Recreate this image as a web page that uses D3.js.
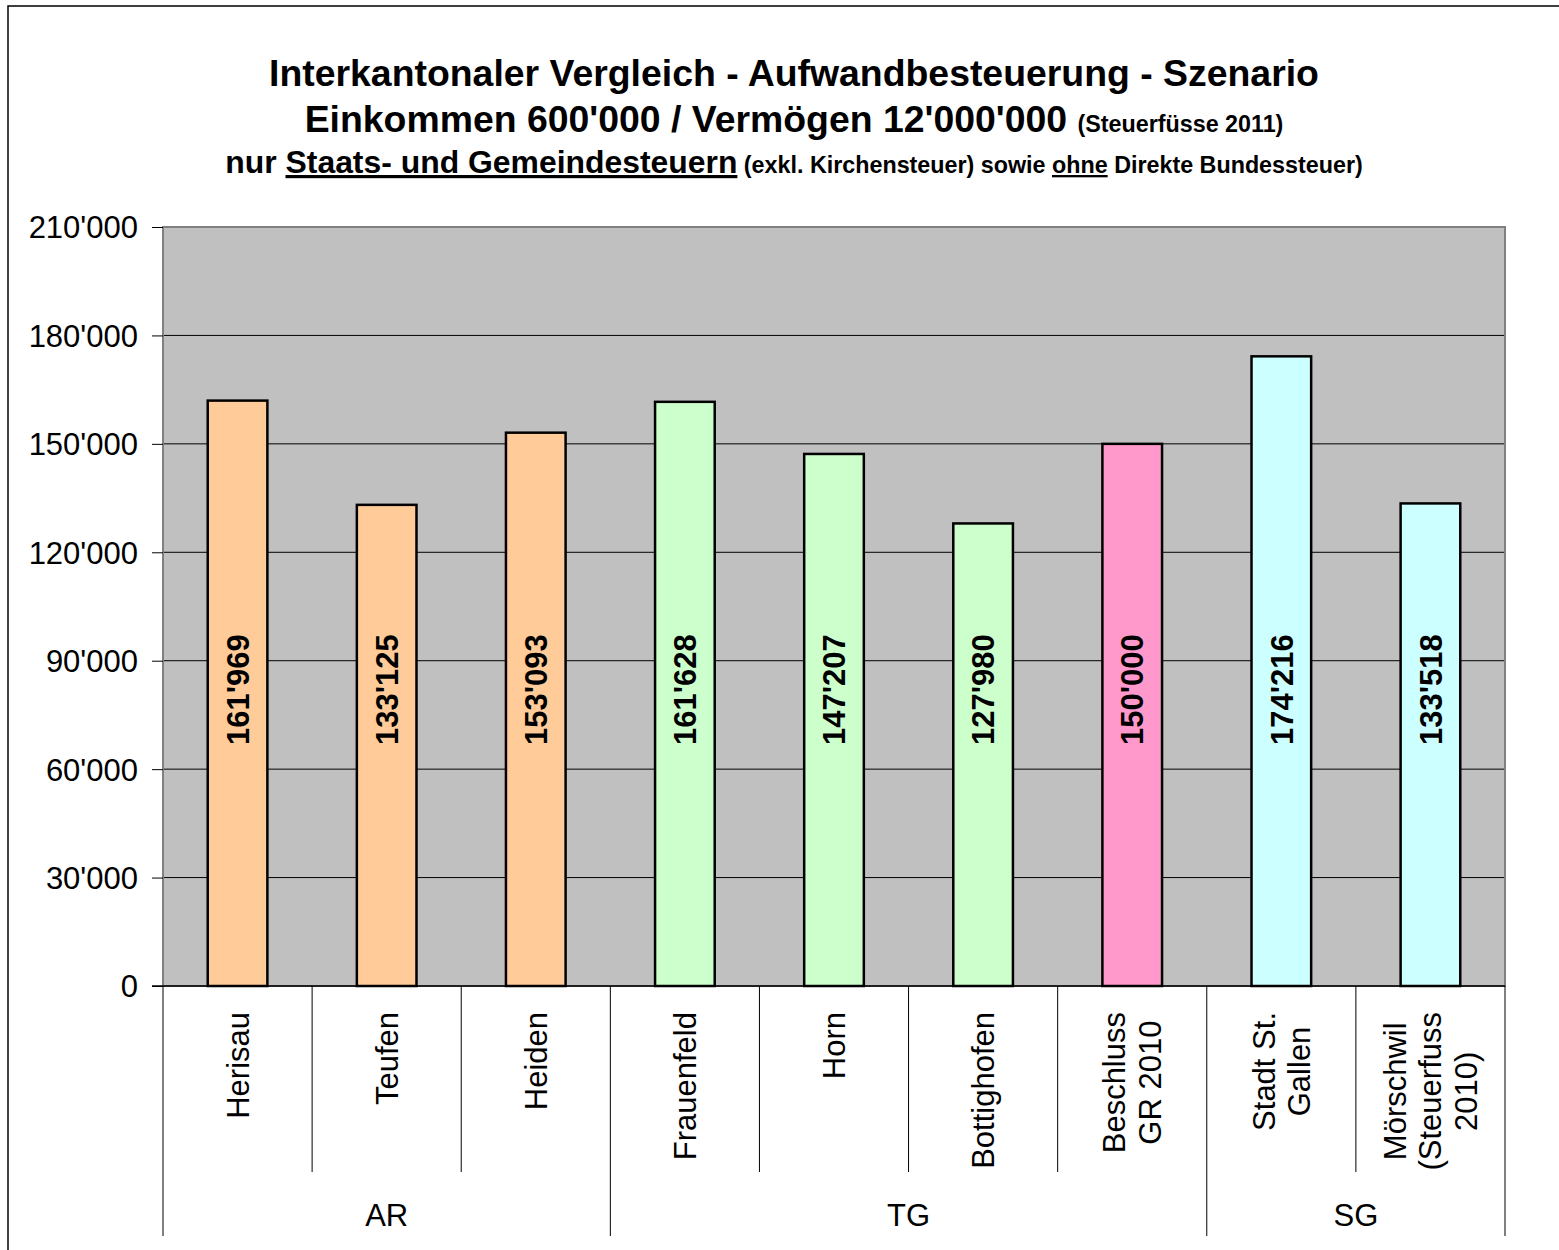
<!DOCTYPE html>
<html>
<head>
<meta charset="utf-8">
<script src="https://cdn.jsdelivr.net/npm/d3@7"></script>
<style>
  body { margin: 0; background: #fff; }
  svg { display: block; }
  text { font-family: "Liberation Sans", Arial, sans-serif; fill: #000; }
</style>
</head>
<body>
<svg id="chart" width="1559" height="1250"></svg>
<script>
// data
var categories = ["Herisau", "Teufen", "Heiden", "Frauenfeld", "Horn", "Bottighofen",
                  "Beschluss\nGR 2010", "Stadt St.\nGallen", "Mörschwil\n(Steuerfuss\n2010)"];
var values = [161969, 133125, 153093, 161628, 147207, 127980, 150000, 174216, 133518];
var cantons = ["AR", "AR", "AR", "TG", "TG", "TG", "TG", "SG", "SG"];
var groups = ["AR", "TG", "SG"];
var barColors = ["#FFCC99", "#FFCC99", "#FFCC99", "#CCFFCC", "#CCFFCC", "#CCFFCC", "#FF99CC", "#CCFFFF", "#CCFFFF"];
var yTicks = [0, 30000, 60000, 90000, 120000, 150000, 180000, 210000];

var svg = d3.select("svg#chart");

var plot = {left: 163, right: 1505, top: 227, bottom: 986},
    shortSep = 1172,   // end of separators inside a group
    longSep = 1236,    // end of separators between groups
    labelTop = 1012,   // upper end of rotated category labels
    labelLevel = 82000; // value labels sit around this height

var fmt = d3.formatLocale({decimal: ".", thousands: "'", grouping: [3], currency: ["", ""]}).format(",d");

// outer chart frame (runs off the picture to the right and bottom)
svg.append("rect")
    .attr("x", 8).attr("y", 6)
    .attr("width", 1700).attr("height", 1400)
    .attr("fill", "none").attr("stroke", "#000").attr("stroke-width", 1.5);

// ---- title ----
var title = svg.append("g").attr("class", "title");
var cx = 794;

title.append("text").attr("x", cx).attr("y", 86)
    .attr("text-anchor", "middle")
    .style("font-weight", "bold").style("font-size", "37.4px")
    .text("Interkantonaler Vergleich - Aufwandbesteuerung - Szenario");

var t2 = title.append("text").attr("x", cx).attr("y", 132)
    .attr("text-anchor", "middle").style("font-weight", "bold");
t2.append("tspan").style("font-size", "37.4px").text("Einkommen 600'000 / Vermögen 12'000'000 ");
t2.append("tspan").style("font-size", "23.3px").text("(Steuerfüsse 2011)");

var t3 = title.append("text").attr("x", cx).attr("y", 173)
    .attr("text-anchor", "middle").style("font-weight", "bold");
t3.append("tspan").style("font-size", "31.9px").text("nur ");
t3.append("tspan").style("font-size", "31.9px").style("text-decoration", "underline").text("Staats- und Gemeindesteuern");
t3.append("tspan").style("font-size", "23.3px").text(" (exkl. Kirchensteuer) sowie ");
t3.append("tspan").style("font-size", "23.3px").style("text-decoration", "underline").text("ohne");
t3.append("tspan").style("font-size", "23.3px").text(" Direkte Bundessteuer)");

// ---- scales ----
var y = d3.scaleLinear().domain([0, 210000]).range([plot.bottom, plot.top]);

var xCat = d3.scaleBand().domain(d3.range(categories.length))
    .range([plot.left, plot.right]).padding(0);

var xBar = d3.scaleBand().domain(d3.range(categories.length))
    .range([plot.left, plot.right]).paddingInner(0.6).paddingOuter(0.3);

// ---- plot area ----
svg.append("rect")
    .attr("x", plot.left).attr("y", plot.top)
    .attr("width", plot.right - plot.left).attr("height", plot.bottom - plot.top)
    .attr("fill", "#C0C0C0");

// gridlines
svg.append("g").selectAll("line")
    .data(yTicks.filter(function(d) { return d > 0 && d < 210000; }))
    .enter().append("line")
    .attr("x1", plot.left).attr("x2", plot.right)
    .attr("y1", function(d) { return y(d); }).attr("y2", function(d) { return y(d); })
    .attr("stroke", "#000").attr("stroke-width", 1);

// plot border
svg.append("rect")
    .attr("x", plot.left).attr("y", plot.top)
    .attr("width", plot.right - plot.left).attr("height", plot.bottom - plot.top)
    .attr("fill", "none").attr("stroke", "#808080").attr("stroke-width", 2);

// bars
svg.append("g").selectAll("rect")
    .data(values)
    .enter().append("rect")
    .attr("x", function(d, i) { return xBar(i); })
    .attr("y", function(d) { return y(d); })
    .attr("width", xBar.bandwidth())
    .attr("height", function(d) { return y(0) - y(d); })
    .attr("fill", function(d, i) { return barColors[i]; })
    .attr("stroke", "#000").attr("stroke-width", 2.5);

// value labels, rotated
svg.append("g").selectAll("text")
    .data(values)
    .enter().append("text")
    .attr("transform", function(d, i) {
        return "translate(" + (xBar(i) + xBar.bandwidth() / 2) + "," + y(labelLevel) + ") rotate(-90)";
    })
    .attr("text-anchor", "middle")
    .attr("dy", "0.36em")
    .style("font-weight", "bold").style("font-size", "31px")
    .text(function(d) { return fmt(d); });

// y axis
var yAxis = d3.axisLeft(y)
    .tickValues(yTicks)
    .tickSize(11)
    .tickPadding(14)
    .tickFormat(function(d) { return fmt(d); });

var ya = svg.append("g")
    .attr("transform", "translate(" + plot.left + ",0)")
    .call(yAxis);
ya.select(".domain").remove();
ya.selectAll(".tick line").attr("stroke", "#000");
ya.selectAll(".tick text")
    .style("font-family", "'Liberation Sans', Arial, sans-serif")
    .style("font-size", "31px").attr("fill", "#000").attr("dy", "0.35em");

// x axis baseline
svg.append("line")
    .attr("x1", plot.left - 11).attr("x2", plot.right)
    .attr("y1", y(0)).attr("y2", y(0))
    .attr("stroke", "#000").attr("stroke-width", 1.5);

// category separators
var seps = d3.range(categories.length + 1);
svg.append("g").selectAll("line")
    .data(seps)
    .enter().append("line")
    .attr("x1", function(i) { return i < categories.length ? xCat(i) : plot.right; })
    .attr("x2", function(i) { return i < categories.length ? xCat(i) : plot.right; })
    .attr("y1", y(0))
    .attr("y2", function(i) {
        var groupEdge = i === 0 || i === categories.length || cantons[i] !== cantons[i - 1];
        return groupEdge ? longSep : shortSep;
    })
    .attr("stroke", "#000").attr("stroke-width", 1);

// category labels (rotated, multi-line, centred lines)
var catG = svg.append("g").style("font-size", "31px");
categories.forEach(function(c, i) {
    var lines = c.split("\n");
    var g = catG.append("g");
    var t = g.append("text").attr("text-anchor", "middle");
    lines.forEach(function(l, k) {
        t.append("tspan")
            .attr("x", 0)
            .attr("dy", k === 0 ? 0 : "1.15em")
            .text(l);
    });
    // measure longest line to hang the block from labelTop
    var maxLen = 0;
    t.selectAll("tspan").each(function() { maxLen = Math.max(maxLen, this.getComputedTextLength()); });
    var lineH = 31 * 1.15;
    var cxBand = xCat(i) + xCat.bandwidth() / 2;
    // after rotate(-90): tspans advance to the right of the band centre
    var shift = -(lines.length - 1) * lineH / 2;
    t.attr("y", 0);
    g.attr("transform", "translate(" + (cxBand + 11) + "," + (labelTop + maxLen / 2) + ") rotate(-90) translate(0," + shift + ")");
});

// group labels
groups.forEach(function(gname) {
    var idx = cantons.map(function(c, i) { return c === gname ? i : -1; }).filter(function(i) { return i >= 0; });
    var x0 = xCat(idx[0]), x1 = xCat(idx[idx.length - 1]) + xCat.bandwidth();
    svg.append("text")
        .attr("x", (x0 + x1) / 2).attr("y", 1215)
        .attr("dy", "0.35em")
        .attr("text-anchor", "middle")
        .style("font-size", "31px")
        .text(gname);
});
</script>
</body>
</html>
